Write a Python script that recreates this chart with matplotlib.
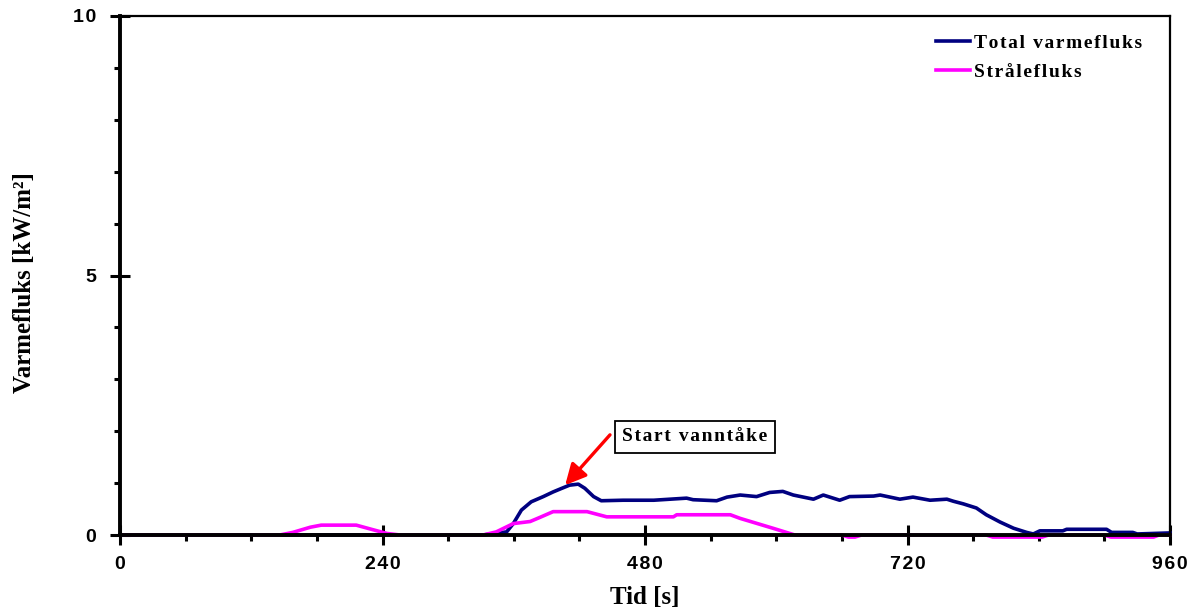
import matplotlib
matplotlib.use("Agg")
import matplotlib.pyplot as plt
from matplotlib.ticker import MultipleLocator
from matplotlib.font_manager import FontProperties

# Varmefluks målt over tid
t_total = [0, 332, 353.5, 359.6, 367, 376, 387, 396, 404, 411, 419, 425, 433,
           440, 460, 488, 518, 524, 545.5, 555, 567, 582, 594, 606, 615.6, 634,
           643, 658, 667, 689, 695, 713, 725, 740.6, 756, 762, 771, 783, 792,
           804.6, 817, 829, 835, 841, 862, 865.5, 902, 906.6, 926, 930, 960]
v_total = [0, 0, 0.06, 0.22, 0.48, 0.64, 0.74, 0.83, 0.90, 0.96, 0.98, 0.90,
           0.74, 0.66, 0.67, 0.67, 0.71, 0.68, 0.66, 0.73, 0.77, 0.74, 0.82,
           0.84, 0.77, 0.69, 0.77, 0.67, 0.74, 0.75, 0.77, 0.69, 0.73, 0.67,
           0.69, 0.65, 0.60, 0.52, 0.39, 0.25, 0.13, 0.05, 0.02, 0.08, 0.08,
           0.11, 0.11, 0.05, 0.05, 0.02, 0.04]

t_rad = [0, 146, 158, 174, 184, 216, 231.6, 244, 256, 332, 344, 359.6, 375,
         384, 396, 427, 445, 506, 509, 558, 567, 597, 617, 660, 666, 672, 678,
         792, 798, 843, 849, 900, 906, 945, 950, 960]
v_rad = [0, 0, 0.05, 0.15, 0.19, 0.19, 0.10, 0.03, 0, 0, 0.06, 0.22, 0.26,
         0.34, 0.45, 0.45, 0.35, 0.35, 0.39, 0.39, 0.32, 0.13, 0, 0, -0.04,
         -0.04, 0, 0, -0.04, -0.04, 0, 0, -0.04, -0.04, 0, 0]

x_ticks = [0, 240, 480, 720, 960]
x_tick_labels = ["0", "240", "480", "720", "960"]
y_ticks = [0, 5, 10]
y_tick_labels = ["0", "5", "10"]

# markering av start vanntåke
mark_t, mark_v = 407, 0.96
note_t, note_v = 448, 1.93
box_t, box_v = 525.7, 1.89

SERIF = ["Liberation Serif", "DejaVu Serif"]
SANS = ["Liberation Sans", "DejaVu Sans"]


def spaced(s, gap="\u200a"):
    # litt luft mellom bokstavene
    return gap.join(s)


fig = plt.figure(figsize=(11.98, 6.10), dpi=100)
ax = fig.add_axes([120 / 1198, 75 / 610, 1050 / 1198, 519 / 610])

ax.plot(t_total, v_total, color="#000080", lw=2.6, clip_on=False,
        label=spaced("Total varmefluks"))
ax.plot(t_rad, v_rad, color="#FF00FF", lw=2.6, clip_on=False,
        label=spaced("Strålefluks"))

ax.set_xlim(0, 960)
ax.set_ylim(0, 10)

ax.set_xticks(x_ticks)
ax.set_xticklabels([spaced(s) for s in x_tick_labels])
ax.set_yticks(y_ticks)
ax.set_yticklabels([spaced(s) for s in y_tick_labels])
ax.xaxis.set_minor_locator(MultipleLocator(60))
ax.yaxis.set_minor_locator(MultipleLocator(1))

ax.tick_params(which="major", direction="inout", length=14, width=2.2)
ax.tick_params(which="minor", direction="out", length=4, width=2.2)
ax.tick_params(axis="x", which="major", pad=8)
ax.tick_params(axis="y", which="major", pad=10)

tick_font = FontProperties(family=SANS, weight="bold", size=14)
for lab in ax.get_xticklabels() + ax.get_yticklabels():
    lab.set_fontproperties(tick_font)

for side in ["left", "bottom"]:
    ax.spines[side].set_linewidth(2.8)
for side in ["top", "right"]:
    ax.spines[side].set_linewidth(1.6)

label_font = FontProperties(family=SERIF, weight="bold", size=18)
ax.set_xlabel("Tid [s]", fontproperties=label_font)
ax.xaxis.set_label_coords(0.5, -0.121)
ax.xaxis.label.set_va("center")
ax.set_ylabel("Varmefluks [kW/m²]", fontproperties=label_font)
ax.yaxis.set_label_coords(-0.0905, 0.486)
ax.yaxis.label.set_va("center")

leg_font = FontProperties(family=SERIF, weight="bold", size=14)
ax.legend(loc="upper right", bbox_to_anchor=(0.981, 0.979), borderaxespad=0,
          frameon=False, prop=leg_font, handlelength=1.75, handletextpad=0.2,
          labelspacing=0.55)

ax.annotate("", xy=(mark_t, mark_v), xytext=(note_t, note_v),
            arrowprops=dict(arrowstyle="-|>,head_length=0.7,head_width=0.35",
                            color="red", lw=2.4, shrinkA=0, shrinkB=0,
                            mutation_scale=18))
ax.text(box_t, box_v, spaced("Start vanntåke"), ha="center", va="center",
        fontproperties=leg_font,
        bbox=dict(boxstyle="square,pad=0.4", fc="white", ec="black", lw=1.3))

fig.savefig("out.png", dpi=100)
